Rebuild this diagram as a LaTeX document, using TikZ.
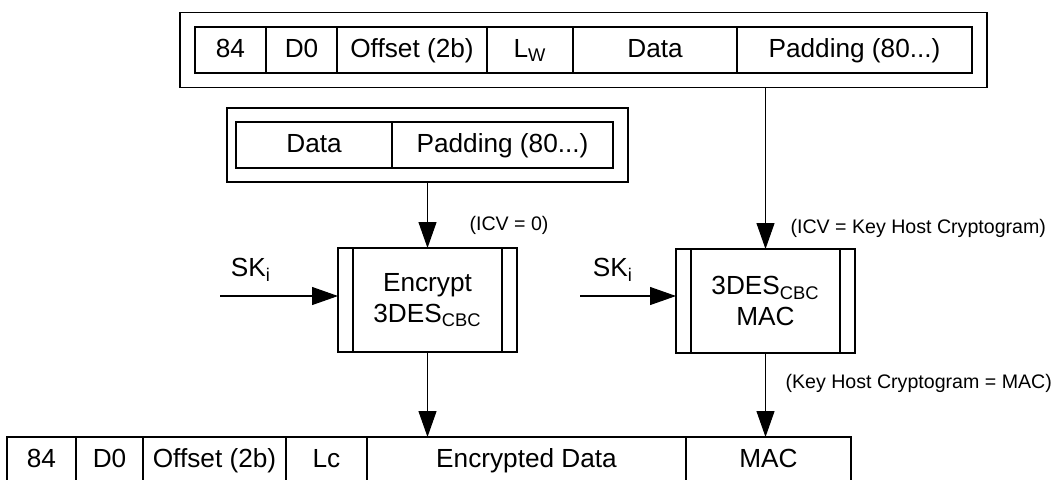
\documentclass[tikz,border=0pt]{standalone}
\usepackage{fontspec}
\setmainfont{Liberation Sans}
\usetikzlibrary{arrows.meta,positioning,fit,calc}

\begin{document}
\begin{tikzpicture}[
	x=0.5pt, y=-0.5pt,
	font=\fontsize{13.1}{15.5}\selectfont,
	line width=0.55pt,
	node distance=0pt,
	pfeil/.style={
		-{Triangle[length=13pt,width=9pt]}
	},
	feld/.style={
		draw,
		minimum height=23pt,
		inner sep=0pt,
		outer sep=0pt,
		text height=9.5pt,
		text depth=2.5pt
	},
	rahmen/.style={
		draw,
		inner sep=0pt
	},
	block/.style={
		draw,
		minimum width=89.5pt,
		minimum height=52pt,
		align=center,
		outer sep=0pt
	},
	notiz/.style={
		font=\fontsize{9.8}{11}\selectfont,
		inner sep=0pt
	}
]
\useasboundingbox (0,0) rectangle (1058,479);

% Kommando oben
\node[feld, minimum width=35.5pt, anchor=west] (K84) at (195,50) {84};
\node[feld, minimum width=35.5pt, right=of K84] (KD0) {D0};
\node[feld, minimum width=75pt, right=of KD0] (KOFF) {Offset (2b)};
\node[feld, minimum width=43pt, right=of KOFF] (KLW) {L\textsubscript{W}};
\node[feld, minimum width=82pt, right=of KLW] (KDATA) {Data};
\node[feld, minimum width=117.5pt, right=of KDATA] (KPAD) {Padding (80...)};
\node[rahmen, fit=(K84)(KPAD), inner xsep=7.5pt, inner ysep=7.25pt] (KOPF) {};

% Daten fuer die Verschluesselung
\node[feld, minimum width=78pt, anchor=west] (MDATA) at (236,145) {Data};
\node[feld, minimum width=110.5pt, right=of MDATA] (MPAD) {Padding (80...)};
\node[rahmen, fit=(MDATA)(MPAD), inner xsep=6pt, inner ysep=7pt, xshift=1.5pt] (MITTE) {};

% Bloecke
\node[block] (ENC) at (427.5,300) {Encrypt\\3DES\textsubscript{CBC}};
\node[block] (MACB) at (765.5,301) {3DES\textsubscript{CBC}\\MAC};

\foreach \b in {ENC,MACB} {
	\draw ([xshift=7.5pt]\b.north west) -- ([xshift=7.5pt]\b.south west);
	\draw ([xshift=-7.5pt]\b.north east) -- ([xshift=-7.5pt]\b.south east);
}

% Kommando unten
\node[feld, minimum width=34.5pt, anchor=west] (A84) at (7,460) {84};
\node[feld, minimum width=33.5pt, right=of A84] (AD0) {D0};
\node[feld, minimum width=71.5pt, right=of AD0] (AOFF) {Offset (2b)};
\node[feld, minimum width=40.5pt, right=of AOFF] (ALC) {Lc};
\node[feld, minimum width=159.5pt, right=of ALC] (AENC) {Encrypted Data};
\node[feld, minimum width=82.5pt, right=of AENC] (AMAC) {MAC};

% Schluessel
\coordinate (SK1) at (220,296);
\coordinate (SK2) at (580,296);
\node (SKA) at (251,270) {SK\textsubscript{i}};
\node (SKB) at (613,270) {SK\textsubscript{i}};

\node[notiz] (ICV1) at (509,225) {(ICV = 0)};
\node[notiz, anchor=west] (ICV2) at (790,228) {(ICV = Key Host Cryptogram)};
\node[notiz, anchor=west] (KHC) at (785,383) {(Key Host Cryptogram = MAC)};

\draw[pfeil] (MITTE.south) -- (ENC.north);
\draw[pfeil] (KOPF.south -| MACB.north) -- (MACB.north);
\draw[pfeil] (SK1) -- (SK1 -| ENC.west);
\draw[pfeil] (SK2) -- (SK2 -| MACB.west);
\draw[pfeil] (ENC.south) -- (ENC.south |- AENC.north);
\draw[pfeil] (MACB.south) -- (MACB.south |- AMAC.north);

\end{tikzpicture}
\end{document}
